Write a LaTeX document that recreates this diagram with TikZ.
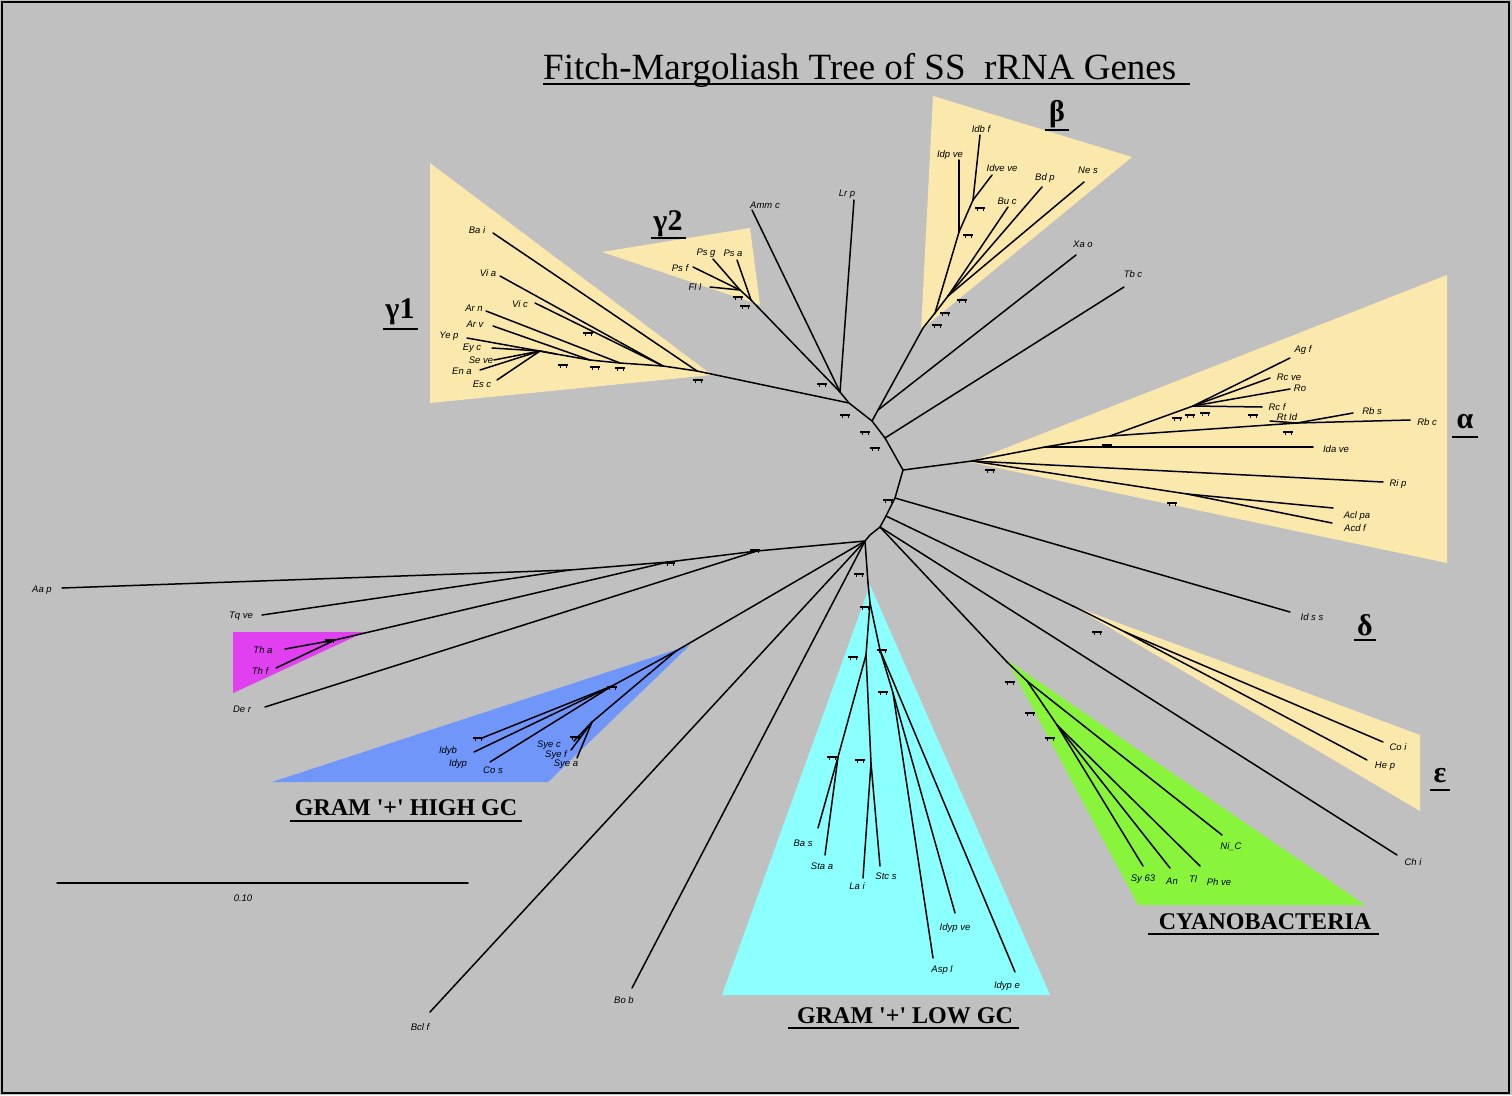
\documentclass[tikz,border=0pt]{standalone}
\usepackage{fontspec}
\setmainfont{Liberation Serif}
\setsansfont{Liberation Sans}
\definecolor{bg}{RGB}{192,192,192}
\definecolor{yel}{RGB}{250,232,172}
\definecolor{mag}{RGB}{224,64,240}
\definecolor{blu}{RGB}{112,150,250}
\definecolor{cya}{RGB}{140,255,255}
\definecolor{grn}{RGB}{136,245,60}
\tikzset{
  br/.style={line width=1.5pt, black, line cap=round},
  lab/.style={font=\fontsize{9.5}{9.5}\selectfont\sffamily\itshape, inner sep=0.5pt},
  greek/.style={font=\fontsize{30}{30}\selectfont\bfseries, inner sep=0pt},
  grp/.style={font=\fontsize{24}{24}\selectfont\bfseries, inner sep=0pt},
  ul/.style={line width=2pt, black},
  bt/.pic={\fill (-5,-1) rectangle (5,1); \draw[line width=0.9pt] (-3,0)--(-3,3) (3,0)--(3,3);}
}
\begin{document}
\begin{tikzpicture}[x=1pt,y=-1pt]
\fill[bg] (0,0) rectangle (1512,1095);
\useasboundingbox (0,0) rectangle (1512,1095);
\draw[line width=2pt] (2,2) rectangle (1509,1093);
% clade backgrounds
\fill[yel] (430,163) -- (712,375) -- (430,403) -- cycle;
\fill[yel] (602,252) -- (750,228) -- (760,305) -- cycle;
\fill[yel] (933,96) -- (1132,157) -- (921,330) -- cycle;
\fill[yel] (970,462) -- (1447,275) -- (1447,563) -- cycle;
\fill[yel] (1073,606) -- (1420,735) -- (1420,811) -- cycle;
\fill[mag] (233,632) -- (365,632) -- (233,693) -- cycle;
\fill[blu] (272,782) -- (690,645) -- (548,782) -- cycle;
\fill[cya] (870,585) -- (1050,995) -- (722,995) -- cycle;
\fill[grn] (1007,660) -- (1365,905) -- (1138,905) -- cycle;
% title
\node[font=\fontsize{37}{37}\selectfont, inner sep=0pt, anchor=base west] (title) at (543,79) {Fitch-Margoliash Tree of SS\ \ rRNA Genes};
\draw[ul] (543,84) -- (1190,84);
% greek labels
\node[greek] (g1) at (400,312) {γ1};
\draw[ul] (383,329) -- (418,329);
\node[greek] (g2) at (668,224) {γ2};
\draw[ul] (651,238) -- (686,238);
\node[greek] (gb) at (1057,114) {β};
\draw[ul] (1045,130) -- (1069,130);
\node[greek] (ga) at (1465,422) {α};
\draw[ul] (1452,437) -- (1478,437);
\node[greek] (gd) at (1365,625) {δ};
\draw[ul] (1354,640) -- (1376,640);
\node[greek] (ge) at (1440,776) {ε};
\draw[ul] (1430,790) -- (1450,790);
% group labels
\node[grp, anchor=base] (hgc) at (406,815) {GRAM \textquotesingle+\textquotesingle\ HIGH GC};
\draw[ul] (290,821) -- (522,821);
\node[grp, anchor=base] (lgc) at (905,1023) {GRAM \textquotesingle+\textquotesingle\ LOW GC};
\draw[ul] (788,1028) -- (1019,1028);
\node[grp, anchor=base] (cya) at (1265,929) {CYANOBACTERIA};
\draw[ul] (1148,934) -- (1379,934);
% scale bar
\coordinate (sb1) at (57,883); \coordinate (sb2) at (468,883);
\draw[br] (sb1) -- (sb2);
\node[lab] (sbl) at (243,898) {0.10};
% backbone
\coordinate (P1) at (840,392); \coordinate (P2) at (849,403);
\coordinate (P3) at (872,421); \coordinate (P3b) at (878,410);
\coordinate (P4) at (885,438); \coordinate (P5) at (903,470);
\coordinate (P6) at (895,498); \coordinate (P7) at (886,516);
\coordinate (P8) at (880,527); \coordinate (P9) at (870,535);
\coordinate (P10) at (865,541);
\draw[br] (P1)--(P2)--(P3)--(P4)--(P5)--(P6)--(P7)--(P8)--(P9)--(P10);
\draw[br] (P3)--(P3b);
% Amm c, Lr p
\coordinate (amm) at (752,210); \node[lab] (Lamm) at (765,205) {Amm c};
\coordinate (lrp) at (854,200); \node[lab] (Llrp) at (847,194) {Lr p};
\draw[br] (P1)--(amm); \draw[br] (P1)--(lrp);
% gamma 2
\coordinate (G20) at (751,300); \coordinate (G21) at (740,290);
\coordinate (psa) at (737,260); \coordinate (psf) at (693,267);
\coordinate (psg) at (713,259); \coordinate (fll) at (710,287);
\node[lab] (Lpsg) at (706,253) {Ps g}; \node[lab] (Lpsa) at (733,253) {Ps a};
\node[lab] (Lpsf) at (680,268) {Ps f}; \node[lab] (Lfll) at (695,287) {Fl l};
\draw[br] (P1)--(G20); \draw[br] (G20)--(G21); \draw[br] (G20)--(psa);
\draw[br] (G21)--(psf); \draw[br] (G21)--(psg); \draw[br] (G21)--(fll);
% gamma 1
\coordinate (Y0) at (697,371); \coordinate (Y1) at (663,366);
\coordinate (Y2) at (620,363); \coordinate (Y3) at (590,360);
\coordinate (Y4) at (556,354); \coordinate (Y5) at (540,351);
\coordinate (bai) at (493,233); \coordinate (via) at (500,276);
\coordinate (vic) at (535,303); \coordinate (arn) at (486,311);
\coordinate (arv) at (493,326); \coordinate (yep) at (467,338);
\coordinate (eyc) at (492,348); \coordinate (sev) at (494,360);
\coordinate (ena) at (480,370); \coordinate (esc) at (497,380);
\node[lab] (Lbai) at (477,230) {Ba i}; \node[lab] (Lvia) at (488,273) {Vi a};
\node[lab] (Lvic) at (520,304) {Vi c}; \node[lab] (Larn) at (474,308) {Ar n};
\node[lab] (Larv) at (475,324) {Ar v}; \node[lab] (Lyep) at (449,336) {Ye p};
\node[lab] (Leyc) at (472,348) {Ey c}; \node[lab] (Lsev) at (481,360) {Se ve};
\node[lab] (Lena) at (462,371) {En a}; \node[lab] (Lesc) at (482,384) {Es c};
\draw[br] (P2)--(Y0); \draw[br] (Y0)--(bai); \draw[br] (Y0)--(Y1);
\draw[br] (Y1)--(via); \draw[br] (Y1)--(vic); \draw[br] (Y1)--(Y2);
\draw[br] (Y2)--(arn); \draw[br] (Y2)--(Y3); \draw[br] (Y3)--(arv);
\draw[br] (Y3)--(Y4); \draw[br] (Y4)--(yep); \draw[br] (Y4)--(Y5);
\draw[br] (Y5)--(eyc); \draw[br] (Y5)--(sev); \draw[br] (Y5)--(ena); \draw[br] (Y5)--(esc);
% beta
\coordinate (B0) at (923,328); \coordinate (B1) at (935,313);
\coordinate (B2) at (959,232); \coordinate (B3) at (973,200);
\coordinate (Bx) at (948,296);
\coordinate (idpve) at (959,160); \coordinate (idbf) at (980,135);
\coordinate (idveve) at (992,175); \coordinate (buc) at (1008,207);
\coordinate (bdp) at (1042,187); \coordinate (nes) at (1084,182);
\node[lab] (Lidbf) at (981,129) {Idb f}; \node[lab] (Lidpve) at (950,155) {Idp ve};
\node[lab] (Lidveve) at (1002,168) {Idve ve}; \node[lab] (Lbuc) at (1007,201) {Bu c};
\node[lab] (Lbdp) at (1045,178) {Bd p}; \node[lab] (Lnes) at (1088,170) {Ne s};
\draw[br] (P3b)--(B0); \draw[br] (B0)--(B1); \draw[br] (B1)--(B2);
\draw[br] (B2)--(idpve); \draw[br] (B2)--(B3); \draw[br] (B3)--(idbf); \draw[br] (B3)--(idveve);
\draw[br] (B1)--(Bx); \draw[br] (Bx)--(buc); \draw[br] (Bx)--(bdp); \draw[br] (Bx)--(nes);
% Xa o, Tb c
\coordinate (xao) at (1076,255); \node[lab] (Lxao) at (1083,244) {Xa o};
\coordinate (tbc) at (1124,287); \node[lab] (Ltbc) at (1133,274) {Tb c};
\draw[br] (P3b)--(xao); \draw[br] (P4)--(tbc);
% alpha
\coordinate (A0) at (972,461); \coordinate (A1) at (1045,447);
\coordinate (A2) at (1110,436); \coordinate (A3) at (1193,406);
\coordinate (A4) at (1297,423); \coordinate (A5) at (1187,494);
\coordinate (agf) at (1290,358); \coordinate (rcve) at (1270,378);
\coordinate (ro) at (1290,389); \coordinate (rcf) at (1262,407);
\coordinate (rtid) at (1270,421); \coordinate (rbs) at (1353,413);
\coordinate (rbc) at (1410,420); \coordinate (idave) at (1313,447);
\coordinate (rip) at (1383,482); \coordinate (aclpa) at (1333,508);
\coordinate (acdf) at (1332,523);
\node[lab] (Lagf) at (1303,350) {Ag f}; \node[lab] (Lrcve) at (1289,377) {Rc ve};
\node[lab] (Lro) at (1300,388) {Ro}; \node[lab] (Lrcf) at (1277,407) {Rc f};
\node[lab] (Lrtid) at (1287,417) {Rt Id}; \node[lab] (Lrbs) at (1372,411) {Rb s};
\node[lab] (Lrbc) at (1427,422) {Rb c}; \node[lab] (Lidave) at (1336,449) {Ida ve};
\node[lab] (Lrip) at (1398,484) {Ri p}; \node[lab] (Laclpa) at (1357,516) {Acl pa};
\node[lab] (Lacdf) at (1355,528) {Acd f};
\draw[br] (P5)--(A0); \draw[br] (A0)--(A1); \draw[br] (A1)--(idave); \draw[br] (A1)--(A2);
\draw[br] (A2)--(A3); \draw[br] (A2)--(A4);
\draw[br] (A3)--(agf); \draw[br] (A3)--(rcve); \draw[br] (A3)--(ro); \draw[br] (A3)--(rcf);
\draw[br] (A4)--(rtid); \draw[br] (A4)--(rbs); \draw[br] (A4)--(rbc);
\draw[br] (A0)--(rip); \draw[br] (A0)--(A5); \draw[br] (A5)--(aclpa); \draw[br] (A5)--(acdf);
% Id s s
\coordinate (idss) at (1290,612); \node[lab] (Lidss) at (1312,617) {Id s s};
\draw[br] (P6)--(idss);
% delta / epsilon
\coordinate (D0) at (1077,608); \coordinate (D1) at (1125,632);
\coordinate (coi) at (1383,742); \coordinate (hep) at (1367,760);
\node[lab] (Lcoi) at (1398,747) {Co i}; \node[lab] (Lhep) at (1385,766) {He p};
\draw[br] (P7)--(D0); \draw[br] (D0)--(D1); \draw[br] (D1)--(coi); \draw[br] (D1)--(hep);
% Ch i
\coordinate (chi) at (1397,855); \node[lab] (Lchi) at (1413,862) {Ch i};
\draw[br] (P8)--(chi);
% cyanobacteria
\coordinate (C0) at (1007,662); \coordinate (C1) at (1027,681); \coordinate (C2) at (1057,725);
\coordinate (nic) at (1222,835); \coordinate (sy) at (1143,866);
\coordinate (an) at (1170,868); \coordinate (tl) at (1200,866);
\node[lab] (Lnic) at (1231,847) {Ni\_C}; \node[lab] (Lsy) at (1143,879) {Sy 63};
\node[lab] (Lan) at (1172,881) {An}; \node[lab] (Ltl) at (1193,879) {Tl};
\node[lab] (Lph) at (1219,882) {Ph ve};
\draw[br] (P8)--(C0); \draw[br] (C0)--(C1); \draw[br] (C1)--(nic); \draw[br] (C1)--(C2);
\draw[br] (C2)--(sy); \draw[br] (C2)--(an); \draw[br] (C2)--(tl);
% left clades
\coordinate (L1) at (757,551); \coordinate (L2) at (668,562); \coordinate (L3) at (570,570);
\coordinate (aap) at (62,588); \node[lab] (Laap) at (42,590) {Aa p};
\coordinate (tqve) at (262,615); \node[lab] (Ltqve) at (241,616) {Tq ve};
\coordinate (der) at (265,707); \node[lab] (Lder) at (242,709) {De r};
\draw[br] (P10)--(L1); \draw[br] (L1)--(L2); \draw[br] (L2)--(L3);
\draw[br] (L3)--(aap); \draw[br] (L3)--(tqve); \draw[br] (L1)--(der);
\coordinate (T0) at (335,640); \coordinate (tha) at (285,649); \coordinate (thf) at (276,668);
\node[lab] (Ltha) at (263,650) {Th a}; \node[lab] (Lthf) at (260,671) {Th f};
\draw[br] (L2)--(T0); \draw[br] (T0)--(tha); \draw[br] (T0)--(thf);
% high GC
\coordinate (H0) at (676,651); \coordinate (H1) at (612,686); \coordinate (H2) at (592,722);
\coordinate (idyb) at (482,738); \coordinate (idyp) at (474,752); \coordinate (cos) at (490,762);
\coordinate (syec) at (574,741); \coordinate (syef) at (571,750); \coordinate (syea) at (577,758);
\node[lab] (Lidyb) at (448,751) {Idyb}; \node[lab] (Lidyp) at (458,764) {Idyp};
\node[lab] (Lcos) at (493,770) {Co s}; \node[lab] (Lsyec) at (549,745) {Sye c};
\node[lab] (Lsyef) at (556,755) {Sye f}; \node[lab] (Lsyea) at (566,764) {Sye a};
\draw[br] (P10)--(H0); \draw[br] (H0)--(H1); \draw[br] (H1)--(idyb); \draw[br] (H1)--(idyp);
\draw[br] (H1)--(cos); \draw[br] (H0)--(H2); \draw[br] (H2)--(syec); \draw[br] (H2)--(syef); \draw[br] (H2)--(syea);
% Bcl f, Bo b
\coordinate (bclf) at (430,1012); \node[lab] (Lbclf) at (420,1027) {Bcl f};
\coordinate (bob) at (632,988); \node[lab] (Lbob) at (624,1000) {Bo b};
\draw[br] (P10)--(bclf); \draw[br] (P10)--(bob);
% low GC
\coordinate (GL0) at (868,583); \coordinate (GL1) at (870,603);
\coordinate (Ga) at (866,655); \coordinate (Gb) at (838,757); \coordinate (Gc) at (871,763);
\coordinate (Gd) at (880,650); \coordinate (Ge) at (893,693);
\coordinate (bas) at (818,828); \coordinate (staa) at (825,855);
\coordinate (lai) at (863,878); \coordinate (stcs) at (880,866);
\coordinate (aspl) at (933,958); \coordinate (idypve) at (955,913); \coordinate (idype) at (1015,972);
\node[lab] (Lbas) at (803,843) {Ba s}; \node[lab] (Lstaa) at (822,866) {Sta a};
\node[lab] (Llai) at (857,886) {La i}; \node[lab] (Lstcs) at (886,876) {Stc s};
\node[lab] (Lidypve) at (955,928) {Idyp ve}; \node[lab] (Laspl) at (942,970) {Asp l};
\node[lab] (Lidype) at (1007,986) {Idyp e};
\draw[br] (P10)--(GL0); \draw[br] (GL0)--(GL1);
\draw[br] (GL1)--(Ga); \draw[br] (Ga)--(Gb); \draw[br] (Ga)--(Gc);
\draw[br] (Gb)--(bas); \draw[br] (Gb)--(staa); \draw[br] (Gc)--(lai); \draw[br] (Gc)--(stcs);
\draw[br] (GL1)--(Gd); \draw[br] (Gd)--(Ge); \draw[br] (Ge)--(aspl); \draw[br] (Ge)--(idypve);
\draw[br] (Gd)--(idype);
% bootstrap marks
\foreach \p in {(588,333),(563,365),(595,367),(620,368),(698,380),
  (738,297),(745,306),(822,384),(845,415),(865,432),(875,448),
  (980,208),(968,235),(962,300),(945,313),(937,325),
  (990,470),(1107,445),(1172,503),(1177,418),(1190,415),(1205,413),(1253,415),(1288,432),
  (888,500),(859,574),(1097,632),(1010,682),(1030,713),(1050,738),
  (865,607),(853,657),(882,650),(883,692),(832,757),(860,760),
  (755,550),(670,563),(330,640),(612,687),(478,738),(575,737)}
  \pic at \p {bt};
\end{tikzpicture}
\end{document}
